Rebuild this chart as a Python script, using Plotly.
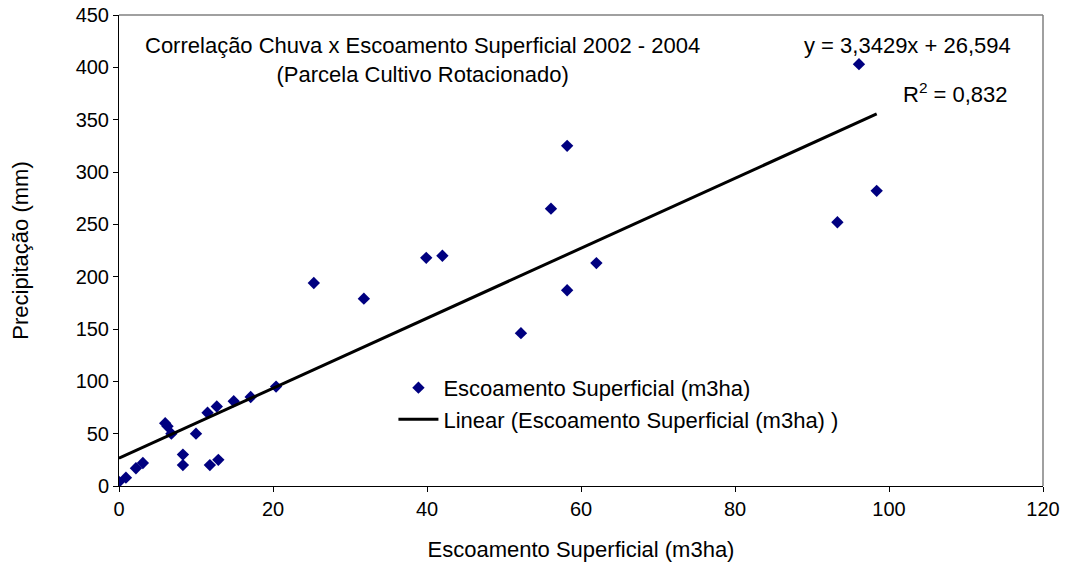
import plotly.graph_objects as go

# Runoff (m3/ha) and rainfall (mm) observations, 2002-2004
escoamento = [0.0, 0.9, 2.2, 3.1, 6.0, 6.3, 6.8, 8.3, 8.3, 10.0, 11.5, 12.7, 11.8, 12.9,
              14.9, 17.1, 20.4, 25.3, 31.8, 39.9, 42.0, 52.2, 56.1, 58.2, 58.2, 62.0,
              93.3, 96.1, 98.4]
precipitacao = [4, 8, 17, 22, 60, 57, 50, 30, 20, 50, 70, 76, 20, 25,
                81, 85, 95, 194, 179, 218, 220, 146, 265, 325, 187, 213,
                252, 403, 282]

# Linear fit reported on the chart
slope = 3.3429
intercept = 26.594
x_fit = [0.0, max(escoamento)]
y_fit = [slope * v + intercept for v in x_fit]

x_ticks = [0, 20, 40, 60, 80, 100, 120]
y_ticks = [0, 50, 100, 150, 200, 250, 300, 350, 400, 450]

FONT = "Liberation Sans, Arial, sans-serif"
TXT = 22

fig = go.Figure()
fig.add_trace(go.Scatter(
    x=escoamento, y=precipitacao, mode="markers",
    name="Escoamento Superficial (m3ha)",
    marker=dict(symbol="diamond", size=9.5, color="#000080",
                line=dict(width=0)),
))
fig.add_trace(go.Scatter(
    x=x_fit, y=y_fit, mode="lines",
    name="Linear (Escoamento Superficial (m3ha) )",
    line=dict(color="black", width=3),
))

fig.update_layout(
    width=1066, height=569,
    margin=dict(l=119, r=23, t=15, b=83),
    paper_bgcolor="white", plot_bgcolor="white",
    font=dict(family=FONT, size=TXT, color="black"),
    showlegend=True,
    legend=dict(x=0.297, y=0.253, xanchor="left", yanchor="top",
                bgcolor="rgba(0,0,0,0)", font=dict(size=TXT),
                traceorder="normal", itemwidth=40),
    xaxis=dict(range=[0, 120], tickvals=x_ticks, ticks="outside", ticklen=5,
               tickcolor="black", showgrid=False, zeroline=False,
               showline=True, linecolor="black", linewidth=1, mirror=False,
               automargin=False,
               title=dict(text="Escoamento Superficial (m3ha)", standoff=22,
                          font=dict(size=TXT)),
               tickfont=dict(size=20)),
    yaxis=dict(range=[0, 450], tickvals=y_ticks, ticks="outside", ticklen=5,
               tickcolor="black", showgrid=False, zeroline=False,
               showline=True, linecolor="black", linewidth=1, mirror=False,
               automargin=False,
               title=dict(text="Precipitação (mm)", standoff=40,
                          font=dict(size=TXT)),
               tickfont=dict(size=20)),
    shapes=[
        dict(type="line", xref="paper", yref="paper", x0=0, x1=1, y0=1, y1=1,
             line=dict(color="#808080", width=1.5)),
        dict(type="line", xref="paper", yref="paper", x0=1, x1=1, y0=0, y1=1,
             line=dict(color="#808080", width=1.5)),
    ],
    annotations=[
        dict(text="Correlação Chuva x Escoamento Superficial 2002 - 2004<br>(Parcela Cultivo Rotacionado)",
             xref="paper", yref="paper", x=0.328, y=0.965, xanchor="center", yanchor="top",
             showarrow=False, font=dict(size=TXT)),
        dict(text="y = 3,3429x + 26,594", xref="paper", yref="paper",
             x=0.9675, y=0.965, xanchor="right", yanchor="top", showarrow=False,
             font=dict(size=TXT)),
        dict(text="R<sup>2</sup> = 0,832", xref="paper", yref="paper",
             x=0.964, y=0.868, xanchor="right", yanchor="top", showarrow=False,
             font=dict(size=TXT)),
    ],
)

fig.write_html("out.html")
